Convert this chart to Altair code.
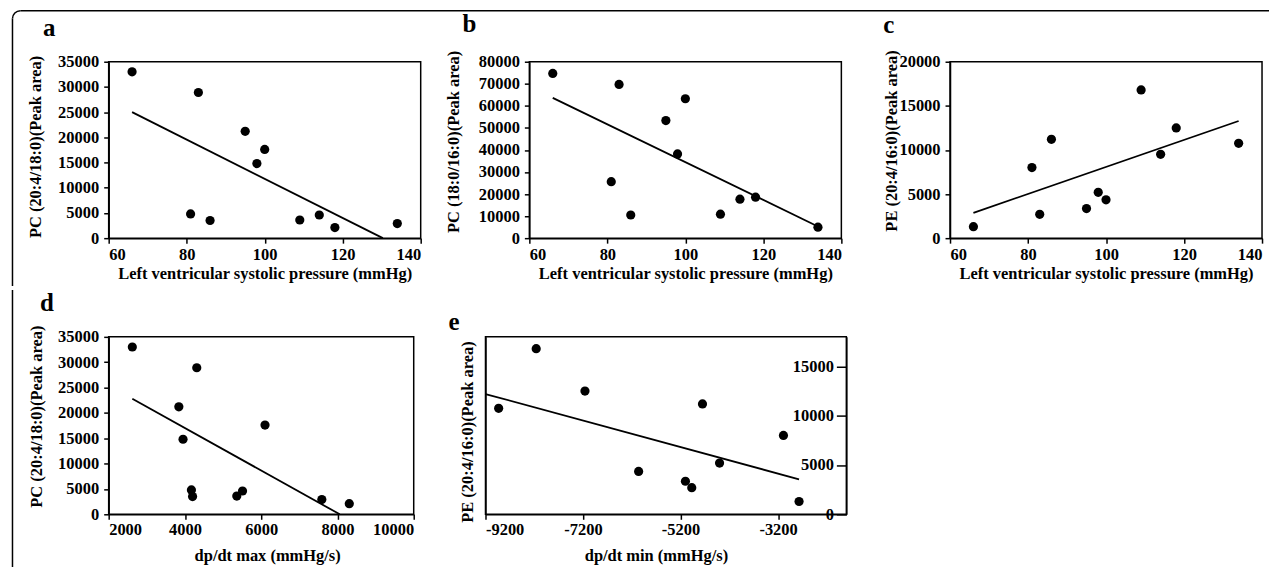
import altair as alt
import pandas as pd

FONT = "Liberation Serif"

# ---------------- data ----------------
lvsp = [66, 83, 95, 100, 98, 81, 86, 109, 114, 118, 134]              # Left ventricular systolic pressure (mmHg)
pc_20_4_18_0 = [33000, 28900, 21200, 17600, 14800, 4800, 3500, 3600, 4600, 2100, 2900]
pc_18_0_16_0 = [74700, 69700, 53300, 63200, 38200, 25600, 10500, 10900, 17700, 18600, 5000]
pe_20_4_16_0 = [1300, 2700, 3350, 4350, 5200, 8000, 11200, 16800, 9500, 12500, 10750]

dpdt_max = [2620, 4310, 3840, 6100, 3950, 4170, 4200, 5360, 5510, 8310, 7590]   # paired with pc_20_4_18_0

dpdt_min = [-8930, -8160, -7160, -6060, -5100, -4970, -4750, -4400, -3090, -2770]
pe_e = [10750, 16800, 12500, 4350, 3350, 2700, 11200, 5200, 8000, 1300]

# trend line end points
trend_a_x, trend_a_y = [66, 130.3], [25000, 0]
trend_b_x, trend_b_y = [66, 134], [63600, 5300]
trend_c_x, trend_c_y = [66, 134], [2870, 13280]
trend_d_x, trend_d_y = [2620, 8060], [22800, 0]
trend_e_x, trend_e_y = [-9200, -2770], [12200, 3550]

letters = ["a", "b", "c", "d", "e"]
lv_title = "Left ventricular systolic pressure (mmHg)"

LS = 16.5   # tick label size
TS = 16.5   # axis title size
SW = 1.5


def df(x, y):
    return pd.DataFrame({"x": x, "y": y})


def panel(px, py, tx, ty, letter, letter_dx, letter_dy, xdom, xticks, ydom, yticks,
          xtitle, ytitle, w, h, xtx, xty, ytx, yty, x_label_pad=3,
          extra=None, right_labels=False):
    xs = alt.Scale(domain=xdom, nice=False, zero=False)
    ys = alt.Scale(domain=ydom, nice=False, zero=False)
    xaxis = alt.Axis(values=xticks, title=xtitle, titleX=xtx, titleY=xty,
                     titleBaseline="alphabetic", tickSize=5, labelPadding=x_label_pad,
                     labelExpr="datum.value + ''")
    if right_labels:
        yaxis = alt.Axis(values=yticks, title=None, orient="left", offset=-w, tickSize=10,
                         labelPadding=3, labelExpr="datum.value + ''")
        line_yaxis = alt.Axis(orient="left", labels=False, ticks=False, title=ytitle, titleX=ytx,
                              titleY=yty, titleBaseline="middle", titleAngle=270)
    else:
        yaxis = alt.Axis(values=yticks, title=ytitle, titleX=ytx, titleY=yty, titleBaseline="middle",
                         titleAngle=270, tickSize=5, labelPadding=5, labelExpr="datum.value + ''")
        line_yaxis = yaxis
    pts = alt.Chart(df(px, py)).mark_circle(size=85, color="black", opacity=1).encode(
        x=alt.X("x:Q", scale=xs, axis=xaxis),
        y=alt.Y("y:Q", scale=ys, axis=yaxis),
    )
    line = alt.Chart(df(tx, ty)).mark_line(color="black", strokeWidth=1.8).encode(
        x=alt.X("x:Q", scale=xs, axis=xaxis),
        y=alt.Y("y:Q", scale=ys, axis=line_yaxis),
    )
    layers = [line, pts] + (extra or [])
    ch = alt.layer(*layers).properties(
        width=w, height=h,
        title=alt.TitleParams(text=letter, anchor="start", frame="group", dx=letter_dx, dy=letter_dy,
                              font=FONT, fontSize=25, fontWeight="bold", color="black",
                              baseline="alphabetic", offset=0),
    )
    if right_labels:
        ch = ch.resolve_axis(y="independent")
    return ch


# decorative rounded frame round the figure (drawn in panel a / panel d coordinates)
one = alt.Data(values=[{"k": 0}])
frame_top = alt.Chart(one).mark_rule(color="black", strokeWidth=SW).encode(
    x=alt.value(-88.5), x2=alt.value(1164), y=alt.value(-51.25))
frame_left_1 = alt.Chart(one).mark_rule(color="black", strokeWidth=SW).encode(
    x=alt.value(-96.5), y=alt.value(-43.25), y2=alt.value(225))
frame_corner = alt.Chart(one).mark_arc(color="black", theta=4.7124, theta2=6.2832,
                                        radius=8.75, radius2=7.25).encode(
    x=alt.value(-88.5), y=alt.value(-43.25))
frame_left_2 = alt.Chart(one).mark_rule(color="black", strokeWidth=SW).encode(
    x=alt.value(-96.5), y=alt.value(-47), y2=alt.value(234))

W, H = 313, 177
pa = panel(lvsp, pc_20_4_18_0, trend_a_x, trend_a_y, letters[0], -66, 51.2,
           [60, 140], [60, 80, 100, 120, 140], [0, 35000], list(range(0, 35001, 5000)),
           lv_title, "PC (20:4/18:0)(Peak area)", W, H, W / 2, 40, -73, 85,
           extra=[frame_top, frame_left_1, frame_corner])
pb = panel(lvsp, pc_18_0_16_0, trend_b_x, trend_b_y, letters[1], -67, 7,
           [60, 140], [60, 80, 100, 120, 140], [0, 80000], list(range(0, 80001, 10000)),
           lv_title, "PC (18:0/16:0)(Peak area)", W, H, W / 2, 40, -76, 80)
pc = panel(lvsp, pe_20_4_16_0, trend_c_x, trend_c_y, letters[2], -67, 8,
           [60, 140], [60, 80, 100, 120, 140], [0, 20000], list(range(0, 20001, 5000)),
           lv_title, "PE (20:4/16:0)(Peak area)", W, H, W / 2, 40, -59, 79)

H2 = 178
pd_ = panel(dpdt_max, pc_20_4_18_0, trend_d_x, trend_d_y, letters[3], -69, 46.5,
            [2000, 10000], [2000, 4000, 6000, 8000, 10000], [0, 35000], list(range(0, 35001, 5000)),
            "dp/dt max (mmHg/s)", "PC (20:4/18:0)(Peak area)", 306, H2, 159, 46, -72.5, 79.5,
            x_label_pad=2, extra=[frame_left_2])
pe = panel(dpdt_min, pe_e, trend_e_x, trend_e_y, letters[4], -37, 18,
           [-9200, -1800], [-9200, -7200, -5200, -3200], [0, 18000], [0, 5000, 10000, 15000],
           "dp/dt min (mmHg/s)", "PE (20:4/16:0)(Peak area)", 362, H2, 171, 46, -18, 95,
           x_label_pad=2, right_labels=True)

top = alt.hconcat(pa, pb, pc, spacing=109, bounds="flush")
bottom = alt.hconcat(pd_, pe, spacing=72, bounds="flush")

chart = alt.vconcat(top, bottom, spacing=0).properties(
    padding={"left": 3, "top": 0, "right": 0, "bottom": 0},
    background="white",
).configure_view(
    stroke="black", strokeWidth=SW
).configure_axis(
    labelFont=FONT, labelFontWeight="bold", labelFontSize=LS, labelColor="black",
    titleFont=FONT, titleFontWeight="bold", titleFontSize=TS, titleColor="black",
    domainColor="black", domainWidth=SW, tickColor="black", tickWidth=SW, grid=False,
)

chart.save("out.html", embed_options={"renderer": "svg", "actions": False})
